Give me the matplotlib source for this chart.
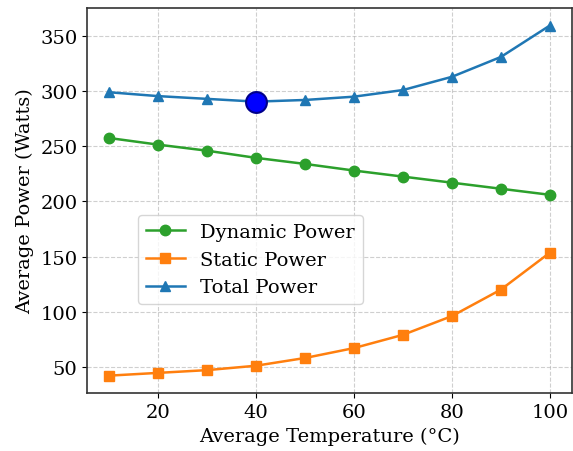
import numpy as np
import matplotlib
matplotlib.use("Agg")
import matplotlib.pyplot as plt

plt.rcParams['font.family'] = 'DejaVu Serif'

temps = [10, 20, 30, 40, 50, 60, 70, 80, 90, 100]
dynamic_power = [257.5, 251.5, 246, 239.5, 234, 228, 222.5, 217, 211.5, 206]
static_power = [42, 44.5, 47, 51, 58, 67, 79, 96, 120, 153.5]
total_power = [299, 295.5, 293, 290.5, 292, 295, 301, 313, 331, 359.5]

fig, ax = plt.subplots(figsize=(5.73, 4.52), dpi=100)
ax.plot(temps, dynamic_power, marker='o', color='tab:green', label='Dynamic Power', markersize=7.5, linewidth=1.8)
ax.plot(temps, static_power, marker='s', color='tab:orange', label='Static Power', markersize=7.5, linewidth=1.8)
ax.plot(temps, total_power, marker='^', color='tab:blue', label='Total Power', markersize=7.5, linewidth=1.8)

# highlight the minimum of total power
i_min = int(np.argmin(total_power))
ax.plot(temps[i_min], total_power[i_min], 'o', color='blue', markeredgecolor='darkblue',
        markersize=15, markeredgewidth=1.5, zorder=5)

ax.grid(True, linestyle='--', alpha=0.6)
for s in ax.spines.values():
    s.set_color('0.2')
    s.set_linewidth(1.2)
ax.set_xlabel('Average Temperature (°C)', fontsize=14)
ax.set_ylabel('Average Power (Watts)', fontsize=14)
ax.tick_params(labelsize=14)
ax.legend(fontsize=14, loc='lower left', bbox_to_anchor=(0.105, 0.231), borderaxespad=0)

plt.subplots_adjust(left=0.152, right=0.998, top=0.98, bottom=0.128)
plt.savefig('out.png')
